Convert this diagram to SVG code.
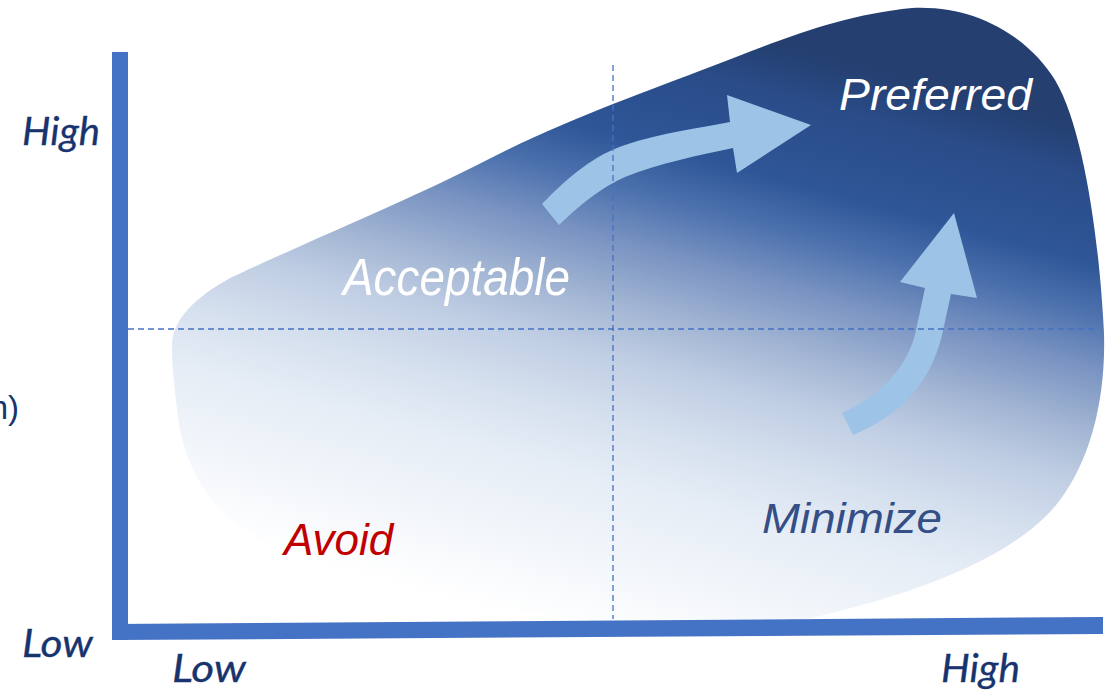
<svg xmlns="http://www.w3.org/2000/svg" width="1107" height="692" viewBox="0 0 1107 692">
  <defs>
    <linearGradient id="blobGrad" gradientUnits="userSpaceOnUse" x1="600" y1="640" x2="760" y2="40">
      <stop offset="0" stop-color="#ffffff"/>
      <stop offset="0.25" stop-color="#e6edf6"/>
      <stop offset="0.35" stop-color="#d5e0ee"/>
      <stop offset="0.45" stop-color="#bfcde3"/>
      <stop offset="0.53" stop-color="#a2b5d3"/>
      <stop offset="0.63" stop-color="#7892c1"/>
      <stop offset="0.71" stop-color="#4d72ae"/>
      <stop offset="0.79" stop-color="#2f5697"/>
      <stop offset="0.92" stop-color="#2a4c89"/>
      <stop offset="1" stop-color="#243f70"/>
    </linearGradient>
  </defs>
  <style>
    .lbl { font-family: "Liberation Sans", Arial, sans-serif; font-style: italic; }
    .axis-lbl { font-family: Lato, "Liberation Sans", Arial, sans-serif; font-style: italic; font-weight: 400; fill: #17346e; stroke: #17346e; stroke-width: 0.3; font-size: 39px; }
    .arrow { fill: #9dc3e6; }
    .axis { fill: #4472c4; }
    .dash { stroke: #4472c4; stroke-width: 1.3; stroke-dasharray: 6 4; fill: none; }
  </style>
  <rect width="1107" height="692" fill="#ffffff"/>

  <g id="region">
    <path fill="url(#blobGrad)" d="M172,350 C170,320 195,298 230,278 C300,245 420,195 487,160 C560,122 650,90 710,67 C780,40 840,15 912,8 C980,5 1030,40 1055,80 C1085,130 1100,250 1104,333 C1106,400 1090,460 1060,500 C1030,540 960,585 802,620 L620,622 C480,615 330,575 260,540 C210,510 185,470 178,417 C175,390 172,370 172,350 Z"/>
  </g>

  <g id="arrow-acceptable-to-preferred">
    <path class="arrow" d="M542,204 C570,175 595,155 625,145 C660,133 700,128 730,122 L727,95 L811,125 L737,173 L733,148 C700,155 660,163 625,177 C605,186 585,200 559,225 Z"/>
  </g>
  <g id="arrow-minimize-to-preferred">
    <path class="arrow" d="M842,413 C880,395 905,370 915,335 L925,288 L900,282 L954,213 L977,298 L951,294 L942,335 C930,385 900,415 853,435 Z"/>
  </g>

  <g id="connectors">
    <line class="dash" x1="128" y1="329" x2="1095" y2="329"/>
    <line class="dash" x1="613" y1="65" x2="613" y2="619"/>
  </g>

  <g id="axes">
    <rect class="axis" x="112" y="52" width="16" height="588"/>
    <polygon class="axis" points="112,624 1103,617 1103,634 112,640"/>
  </g>

  <g id="label-preferred">
    <text class="lbl" x="839" y="110" font-size="45" fill="#ffffff" textLength="193" lengthAdjust="spacingAndGlyphs">Preferred</text>
  </g>
  <g id="label-acceptable">
    <text class="lbl" x="343" y="295" font-size="52" fill="#ffffff" textLength="227" lengthAdjust="spacingAndGlyphs">Acceptable</text>
  </g>
  <g id="label-minimize">
    <text class="lbl" x="762" y="533" font-size="43" fill="#344e86" textLength="180" lengthAdjust="spacingAndGlyphs">Minimize</text>
  </g>
  <g id="label-avoid">
    <text class="lbl" x="284" y="555" font-size="44" fill="#c00000">Avoid</text>
  </g>

  <g id="axis-labels">
    <text class="axis-lbl" x="22" y="145" textLength="78" lengthAdjust="spacingAndGlyphs">High</text>
    <text class="axis-lbl" x="22" y="657" textLength="71" lengthAdjust="spacingAndGlyphs">Low</text>
    <text class="axis-lbl" x="172" y="682" textLength="74" lengthAdjust="spacingAndGlyphs">Low</text>
    <text class="axis-lbl" x="941" y="682" textLength="79" lengthAdjust="spacingAndGlyphs">High</text>
    <text x="19" y="419" font-family="Liberation Sans, Arial, sans-serif" font-size="33" fill="#17346e" text-anchor="end">n)</text>
  </g>
</svg>
